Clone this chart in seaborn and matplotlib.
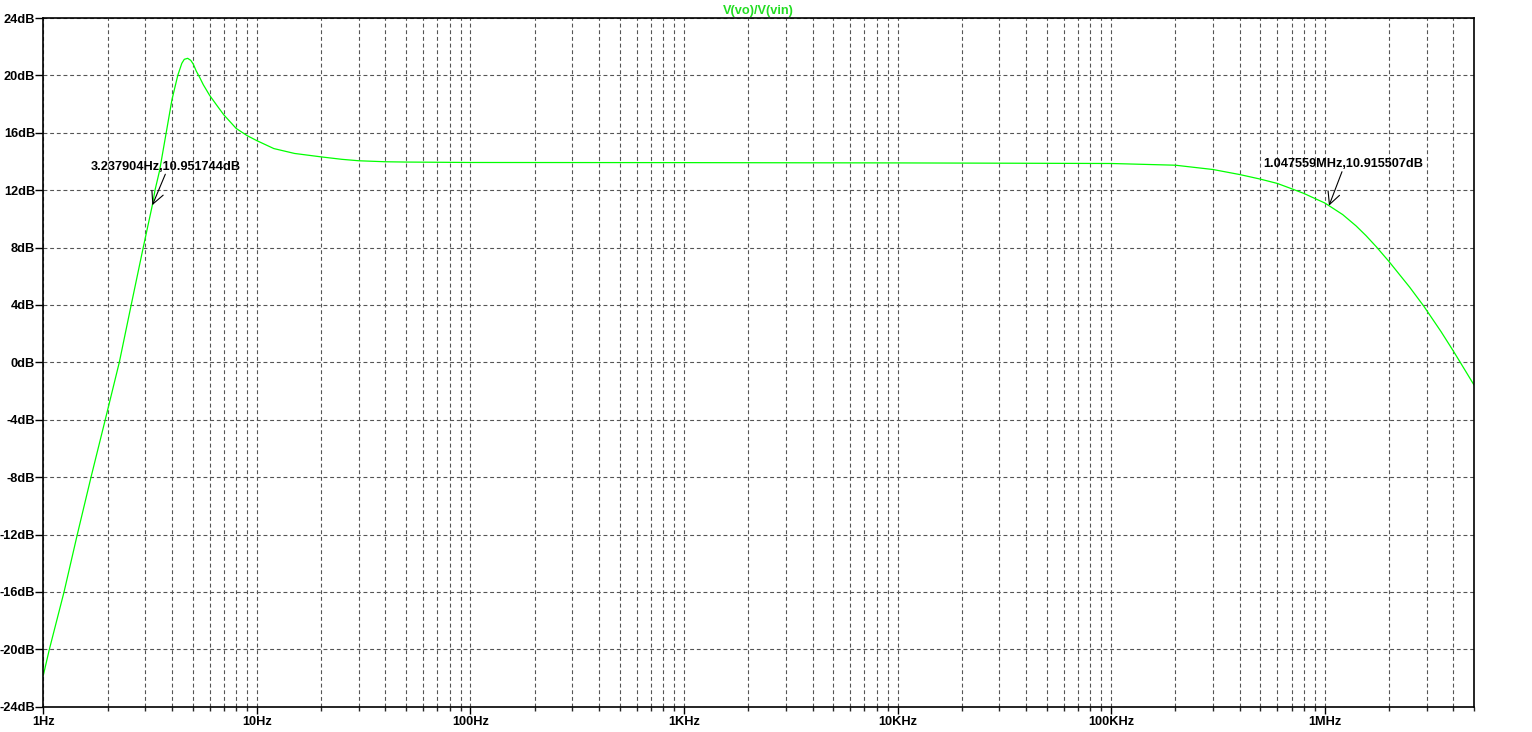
import numpy as np
import pandas as pd
import matplotlib
matplotlib.use("Agg")
import matplotlib.pyplot as plt
from matplotlib.ticker import FixedLocator, LogLocator, NullFormatter
import seaborn as sns

# AC sweep: V(vo)/V(vin) magnitude
freq_hz = [1, 1.067, 1.25, 1.442, 1.672, 1.949, 2.268, 2.578, 2.935, 3.237904, 3.333,
           3.5, 3.76, 4.0, 4.26, 4.45, 4.57, 4.74, 4.9, 5.03, 5.2, 5.4, 5.61, 6.0,
           6.5, 7.0, 8.0, 9.0, 10, 12, 15, 20, 25, 30, 40, 50, 100, 1e3, 1e4, 1e5,
           2e5, 3e5, 4e5, 5e5, 6e5, 7e5, 8e5, 9e5, 1e6, 1.047559e6, 1.214e6,
           1.403e6, 1.562e6, 1.744e6, 2e6, 2.5e6, 2.91e6, 3.5e6, 4e6,
           4.27e6, 5e6]
gain_db = [-21.8, -20.0, -16.0, -12.0, -8.0, -4.0, 0.0, 4.0, 8.0, 10.95, 12.0,
           13.35, 16.0, 18.3, 20.0, 20.84, 21.12, 21.19, 21.05, 20.8, 20.3, 19.85, 19.35, 18.62,
           17.9, 17.25, 16.3, 15.8, 15.45, 14.9, 14.56, 14.32, 14.15, 14.05, 13.98, 13.96, 13.93, 13.92, 13.9, 13.86,
           13.74, 13.44, 13.09, 12.77, 12.47, 12.1, 11.77, 11.42, 11.11, 10.92, 10.3,
           9.51, 8.83, 8.06, 7.03, 5.24, 3.92, 2.16, 0.8,
           0.11, -1.57]

x_ticks = [1, 10, 100, 1e3, 1e4, 1e5, 1e6]
x_labels = ["1Hz", "10Hz", "100Hz", "1KHz", "10KHz", "100KHz", "1MHz"]
y_ticks = list(range(-24, 25, 4))
y_labels = [f"{v}dB" for v in y_ticks]

marker_freqs = [3.237904, 1.047559e6]
marker_dbs = [10.951744, 10.915507]
marker_texts = ["3.237904Hz,10.951744dB", "1.047559MHz,10.915507dB"]

df = pd.DataFrame({"freq": freq_hz, "gain": gain_db})

sns.set_style("white")
plt.rcParams['font.family'] = ['Liberation Sans', 'DejaVu Sans']
plt.rcParams['font.weight'] = 'bold'

fig = plt.figure(figsize=(15.32, 7.32), dpi=100)
ax = fig.add_axes([0.0283, 0.0346, 0.9338, 0.9408])

sns.lineplot(data=df, x="freq", y="gain", ax=ax, color="#00ff00", linewidth=0.9,
             estimator=None, sort=False)

ax.set_xscale("log")
ax.set_xlim(1, 5e6)
ax.set_ylim(-24, 24)

ax.xaxis.set_major_locator(FixedLocator(x_ticks))
ax.set_xticklabels(x_labels)
ax.xaxis.set_minor_locator(LogLocator(base=10, subs=np.arange(2, 10)))
ax.xaxis.set_minor_formatter(NullFormatter())
ax.set_yticks(y_ticks)
ax.set_yticklabels(y_labels)

ax.tick_params(axis="x", which="major", direction="out", length=5, width=1,
               pad=2, labelsize=9.2, colors="black")
ax.tick_params(axis="x", which="minor", direction="out", length=3, width=1)
ax.tick_params(axis="y", which="major", direction="out", length=6, width=1,
               pad=0, labelsize=9.2, colors="black")
ax.tick_params(bottom=True, left=True, which="both")
ax.tick_params(axis="y", which="minor", left=False)

grid_kw = dict(color="#555555", linestyle=(0, (3.5, 2.5)), linewidth=0.8)
ax.grid(True, axis="x", which="both", **grid_kw)
ax.grid(True, axis="y", which="major", **grid_kw)

for side in ax.spines.values():
    side.set_visible(True)
    side.set_color("black")
    side.set_linewidth(1.2)

ax.set_xlabel("")
ax.set_ylabel("")
ax.set_title("V(vo)/V(vin)", color="#22dd22", fontsize=9.2, fontweight="bold", pad=3)

# cursor readouts with arrows
text_offsets = [(-62, 32), (-66, 36)]
tail_offsets = [(13, 31), (13, 34)]
for f, db, txt, t_off, a_off in zip(marker_freqs, marker_dbs, marker_texts,
                                     text_offsets, tail_offsets):
    ax.annotate("", xy=(f, db), xytext=a_off, textcoords="offset pixels",
                arrowprops=dict(arrowstyle="->", color="black", lw=0.8,
                                shrinkA=0, shrinkB=0, mutation_scale=22))
    ax.annotate(txt, xy=(f, db), xytext=t_off, textcoords="offset pixels",
                ha="left", va="bottom", fontsize=9.2, fontweight="bold", color="black")

fig.savefig("out.png", dpi=100)
